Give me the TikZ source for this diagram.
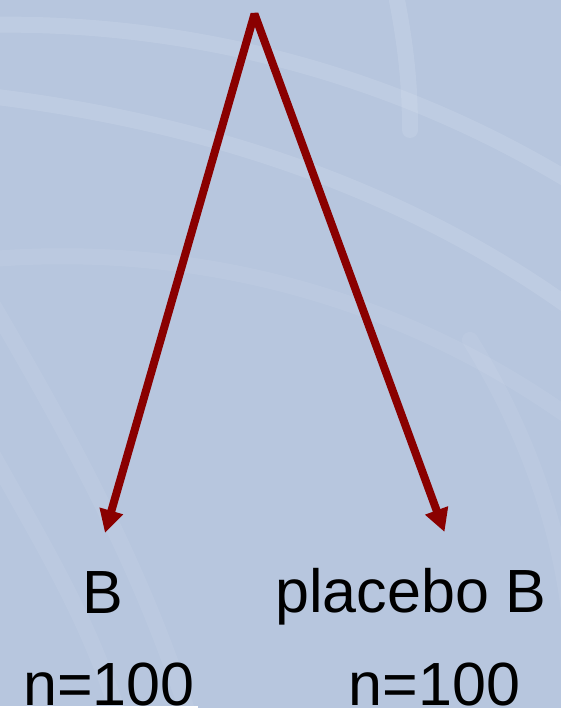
\documentclass[tikz,border=0pt]{standalone}
\usepackage{fontspec}
\setmainfont{Liberation Sans}
\usetikzlibrary{arrows.meta}
\definecolor{bgblue}{RGB}{183,198,222}
\definecolor{streak}{RGB}{214,224,238}
\definecolor{arrred}{RGB}{138,0,0}
\tikzset{
  lbl/.style={anchor=base, inner sep=0pt, font=\fontsize{61}{72}\selectfont, text=black},
  branch/.style={draw=arrred, line width=8pt, line join=bevel,
    {Triangle[length=23pt,width=23pt]}-{Triangle[length=23pt,width=23pt]}},
  streakline/.style={draw=streak, line width=16pt, opacity=0.25, line cap=round}
}
\begin{document}
\begin{tikzpicture}[x=1pt,y=-1pt]
\useasboundingbox (0,0) rectangle (561,708);
\fill[bgblue] (0,0) rectangle (561,708);
% faint background streaks
\begin{scope}
\clip (0,0) rectangle (561,708);
\draw[streakline] (-20,95) .. controls (200,120) and (420,190) .. (600,330);
\draw[streakline] (-20,25) .. controls (180,20) and (400,70) .. (600,200);
\draw[streakline, opacity=0.15] (-20,260) .. controls (200,240) and (420,300) .. (600,440);
\draw[streakline] (395,-10) .. controls (405,40) and (410,80) .. (410,130);
\draw[streakline, opacity=0.15] (-10,300) .. controls (60,420) and (140,560) .. (190,720);
\draw[streakline, opacity=0.15] (-10,450) .. controls (40,540) and (90,620) .. (120,720);
\draw[streakline, opacity=0.15] (470,340) .. controls (520,420) and (560,520) .. (570,620);
\end{scope}
\fill[white] (0,705.5) rectangle (198,708);
% arrows
\coordinate (apex) at (254.5,14);
\coordinate (ltip) at (105,533);
\coordinate (rtip) at (444.5,532);
\draw[branch] (ltip) -- (apex) -- (rtip);
% labels
\node[lbl] (b) at (103,613) {B};
\node[lbl] (pb) at (411,612) {placebo B};
\node[lbl] (nl) at (109,705) {n=100};
\node[lbl] (nr) at (434.5,705) {n=100};
\end{tikzpicture}
\end{document}
